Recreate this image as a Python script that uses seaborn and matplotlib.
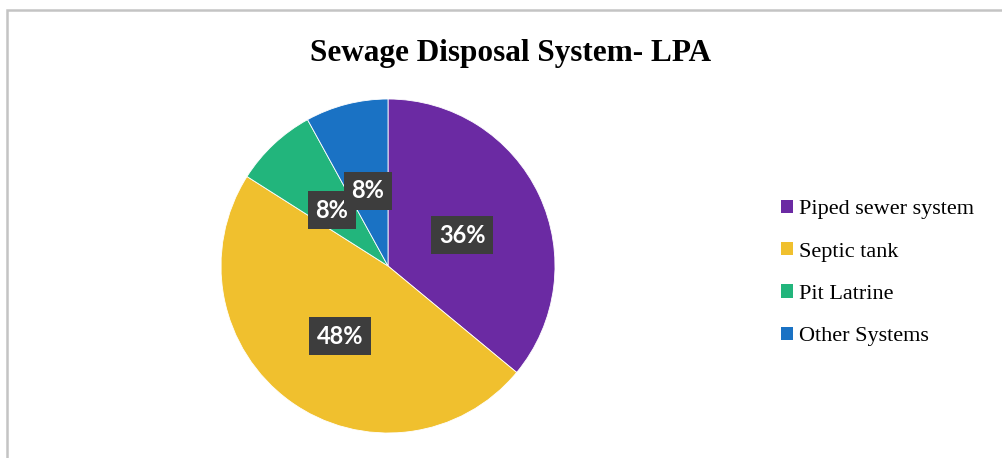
import matplotlib
matplotlib.use('Agg')
import matplotlib.pyplot as plt
import seaborn as sns
from matplotlib.patches import Rectangle
from matplotlib.transforms import ScaledTranslation

# Data
categories = ['Piped sewer system', 'Septic tank', 'Pit Latrine', 'Other Systems']
shares = [36, 48, 8, 8]
colors = ['#6b2aa3', '#f0c02e', '#22b57c', '#1a72c4']

sns.set_theme(style='white')
plt.rcParams['font.family'] = ['DejaVu Sans']

fig = plt.figure(figsize=(10.02, 4.58), dpi=100)
fig.patch.set_facecolor('white')

# light border around the chart area (runs off right and bottom)
fig.patches.append(Rectangle((7 / 1002, -0.1), 1.2, 1 - 10 / 458 + 0.1,
                             transform=fig.transFigure, fill=False,
                             edgecolor='#c4c4c4', linewidth=1.8))

ax = fig.add_axes([221 / 1002, 25 / 458, 334 / 1002, 334 / 458])
wedges, texts, autotexts = ax.pie(
    shares, colors=colors, startangle=90, counterclock=False,
    autopct='%1.0f%%', pctdistance=0.49,
    wedgeprops=dict(linewidth=0.6, edgecolor='white'))
ax.set_xlim(-1, 1)
ax.set_ylim(-1, 1)
ax.set_aspect('equal')

# small downward nudge of the data labels
nudge = ScaledTranslation(0, -0.04, fig.dpi_scale_trans)
for t in autotexts:
    t.set_color('white')
    t.set_fontsize(17)
    t.set_fontweight('bold')
    t.set_family(['Lato', 'DejaVu Sans'])
    t.set_transform(t.get_transform() + nudge)
    t.set_bbox(dict(boxstyle='square,pad=0.32', facecolor='#3d3d3d', edgecolor='none'))

fig.text(0.51, 0.884, 'Sewage Disposal System- LPA', ha='center', va='center',
         fontsize=22.5, fontweight='bold', color='black',
         family=['Liberation Serif', 'DejaVu Serif'])

leg = fig.legend(wedges, categories, loc='center left', bbox_to_anchor=(0.779, 0.404),
                 frameon=False, handlelength=0.55, handleheight=0.55,
                 handletextpad=0.3, labelspacing=1.02, borderpad=0, borderaxespad=0,
                 prop=dict(family=['Liberation Serif', 'DejaVu Serif'], size=16))
for h in leg.legend_handles:
    h.set_edgecolor('none')
for txt in leg.get_texts():
    txt.set_color('black')

fig.savefig('out.png', dpi=100)
